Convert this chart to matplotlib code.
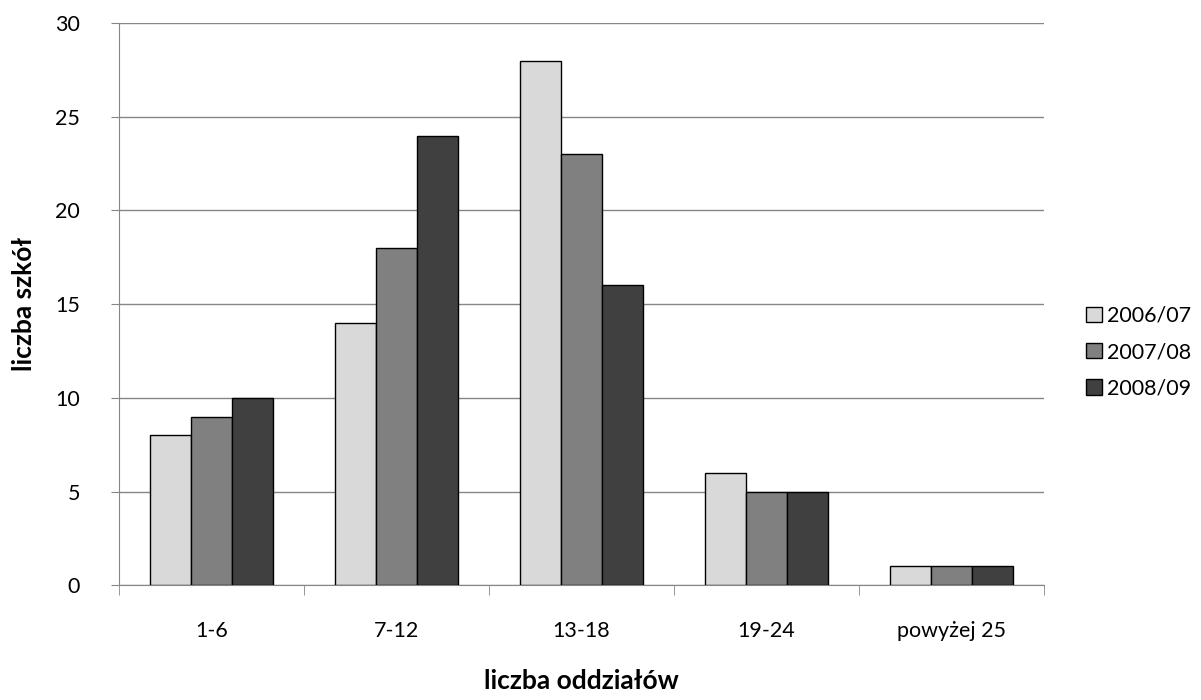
import matplotlib.pyplot as plt
import numpy as np

categories = ["1-6", "7-12", "13-18", "19-24", "powyżej 25"]
series = ["2006/07", "2007/08", "2008/09"]
v2006 = [8, 14, 28, 6, 1]
v2007 = [9, 18, 23, 5, 1]
v2008 = [10, 24, 16, 5, 1]
colors = ["#d9d9d9", "#808080", "#404040"]

plt.rcParams['font.family'] = ['Lato', 'DejaVu Sans']

fig = plt.figure(figsize=(12.01, 7.0), dpi=100)
ax = fig.add_axes([0.099, 0.164, 0.77, 0.803])

x = np.arange(len(categories))
w = 0.222
for i, vals in enumerate([v2006, v2007, v2008]):
    ax.bar(x + (i - 1) * w, vals, w, color=colors[i], edgecolor="black",
           linewidth=1.0, label=series[i], zorder=3)

ax.set_xlim(-0.5, 4.5)
ax.set_ylim(0, 30)
ax.set_yticks(range(0, 31, 5))
ax.yaxis.grid(True, color="#868686", linewidth=1.0, zorder=0)
ax.set_xticks(x)
ax.set_xticklabels(categories)
ax.set_xticks(np.arange(-0.5, 5, 1), minor=True)
ax.tick_params(axis="x", which="major", length=0, pad=26, labelsize=15.5)
ax.tick_params(axis="x", which="minor", length=7, color="#868686", direction="out")
ax.tick_params(axis="y", length=6, color="#868686", labelsize=15.5, pad=22)

for s in ["top", "right"]:
    ax.spines[s].set_visible(False)
for s in ["left", "bottom"]:
    ax.spines[s].set_color("#868686")

ax.set_ylabel("liczba szkół", fontsize=19, fontweight="bold", labelpad=14)
ax.set_xlabel("liczba oddziałów", fontsize=19, fontweight="bold", labelpad=20)

fig.legend(loc="center left", bbox_to_anchor=(0.904, 0.497), frameon=False,
           fontsize=15.5, handlelength=0.75, handleheight=0.75, handletextpad=0.25,
           labelspacing=0.75, borderaxespad=0, borderpad=0)

fig.savefig("out.png", dpi=100)
